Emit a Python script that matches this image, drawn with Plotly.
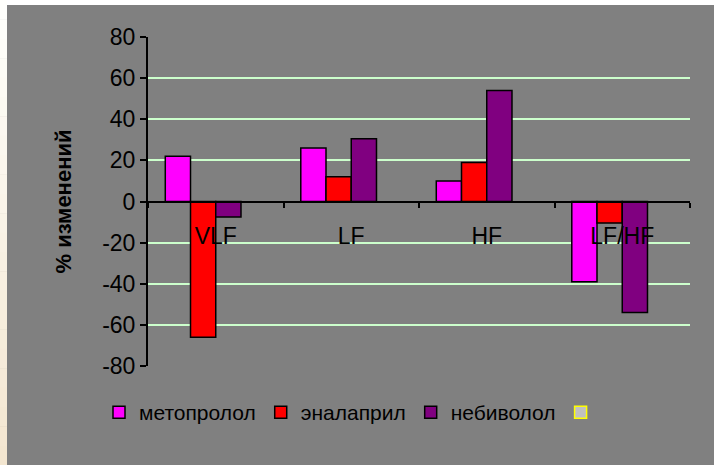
import plotly.graph_objects as go

# Heart-rate-variability spectral components, % change per drug
categories = ["VLF", "LF", "HF", "LF/HF"]
metoprolol = [22, 26, 10, -39]
enalapril = [-66, 12, 19, -10.5]
nebivolol = [-7.5, 30.5, 54, -54]
empty_series = [None, None, None, None]

series_names = ["метопролол", "эналаприл", "небиволол", ""]
series_values = [metoprolol, enalapril, nebivolol, empty_series]
series_colors = ["#FF00FF", "#FF0000", "#800080", "#C0C0C0"]
series_edges = ["#000000", "#000000", "#000000", "#FFFF00"]

y_ticks = [80, 60, 40, 20, 0, -20, -40, -60, -80]

W, H = 714, 465
L, R, T, B = 148, 24, 37, 99
PW, PH = W - L - R, H - T - B


def px_x(p):
    return (p - L) / PW


def px_y(p):
    return (H - B - p) / PH


fig = go.Figure()
for name, vals, col, edge in zip(series_names, series_values, series_colors, series_edges):
    fig.add_trace(go.Bar(
        x=categories, y=vals, name=name,
        marker=dict(color=col, line=dict(color=edge, width=1.5)),
        showlegend=True,
    ))

shapes = []
# white band along the top edge
shapes.append(dict(type="rect", xref="paper", yref="paper",
                   x0=px_x(0), x1=px_x(W), y0=px_y(5), y1=px_y(0),
                   fillcolor="#FFFFFF", line=dict(width=0), layer="below"))
# left band fading from white to cream
steps = 24
def mix(a, b, t):
    return int(round(a + (b - a) * t))
for i in range(steps):
    t = i / (steps - 1)
    c = "#%02X%02X%02X" % (mix(255, 243, t), mix(255, 230, t), mix(252, 208, t))
    y0p = H * i / steps
    y1p = H * (i + 1) / steps
    shapes.append(dict(type="rect", xref="paper", yref="paper",
                       x0=px_x(0), x1=px_x(7), y0=px_y(y1p + 0.5), y1=px_y(y0p),
                       fillcolor=c, line=dict(width=0), layer="below"))

fig.update_layout(
    width=W, height=H,
    margin=dict(l=L, r=R, t=T, b=B),
    paper_bgcolor="#808080",
    plot_bgcolor="#808080",
    font=dict(family="Arial, Liberation Sans, sans-serif", size=20, color="#000000"),
    barmode="group",
    bargap=0.255,
    bargroupgap=0,
    showlegend=True,
    legend=dict(orientation="h", x=px_x(99), xanchor="left", y=px_y(392), yanchor="top",
                font=dict(size=21), bgcolor="rgba(0,0,0,0)",
                itemwidth=30, tracegroupgap=0),
    shapes=shapes,
)

fig.update_yaxes(
    range=[-80, 80],
    tickvals=y_ticks,
    ticktext=[str(v) for v in y_ticks],
    showgrid=True, gridcolor="#CCFFCC", gridwidth=2,
    zeroline=True, zerolinecolor="#000000", zerolinewidth=2,
    showline=True, linecolor="#000000", linewidth=2,
    ticks="outside", ticklen=6, tickwidth=2, tickcolor="#000000",
    tickfont=dict(size=23),
    title=dict(text="<b>% изменений</b>", font=dict(size=22), standoff=24),
    fixedrange=True,
)

fig.update_xaxes(
    type="category",
    anchor="free", position=0.5,
    showline=True, linecolor="#000000", linewidth=2,
    ticks="outside", ticklen=5, tickwidth=2, tickcolor="#000000",
    tickson="boundaries",
    showgrid=False,
    tickfont=dict(size=23),
    ticklabelstandoff=14,
    fixedrange=True,
)

fig.write_html("out.html")
